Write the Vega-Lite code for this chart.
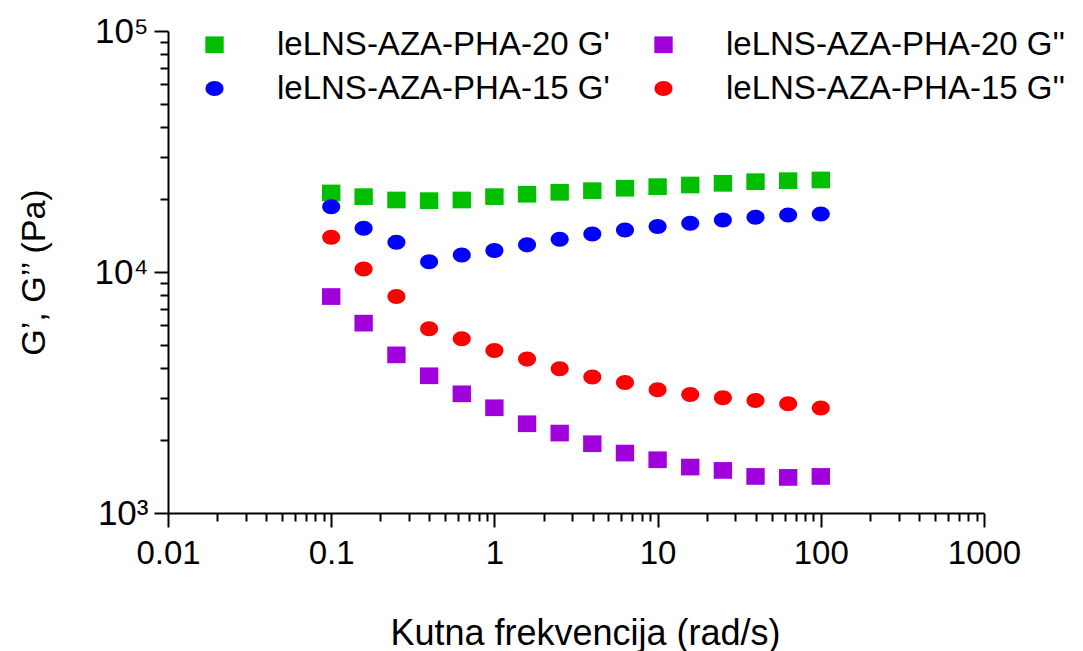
{
  "$schema": "https://vega.github.io/schema/vega-lite/v6.json",
  "width": 816,
  "height": 482,
  "autosize": {"type": "none"},
  "padding": {"left": 168, "top": 31, "right": 99, "bottom": 138},
  "background": "white",
  "config": {"view": {"stroke": null}, "font": "Liberation Sans"},
  "data": {
    "values": [
      {"f": 0.1, "v": 21280, "s": "leLNS-AZA-PHA-20 G'"},
      {"f": 0.158, "v": 20540, "s": "leLNS-AZA-PHA-20 G'"},
      {"f": 0.251, "v": 19900, "s": "leLNS-AZA-PHA-20 G'"},
      {"f": 0.398, "v": 19770, "s": "leLNS-AZA-PHA-20 G'"},
      {"f": 0.631, "v": 19900, "s": "leLNS-AZA-PHA-20 G'"},
      {"f": 1, "v": 20540, "s": "leLNS-AZA-PHA-20 G'"},
      {"f": 1.585, "v": 21020, "s": "leLNS-AZA-PHA-20 G'"},
      {"f": 2.512, "v": 21420, "s": "leLNS-AZA-PHA-20 G'"},
      {"f": 3.981, "v": 21750, "s": "leLNS-AZA-PHA-20 G'"},
      {"f": 6.31, "v": 22260, "s": "leLNS-AZA-PHA-20 G'"},
      {"f": 10, "v": 22600, "s": "leLNS-AZA-PHA-20 G'"},
      {"f": 15.85, "v": 22960, "s": "leLNS-AZA-PHA-20 G'"},
      {"f": 25.12, "v": 23340, "s": "leLNS-AZA-PHA-20 G'"},
      {"f": 39.81, "v": 23700, "s": "leLNS-AZA-PHA-20 G'"},
      {"f": 63.1, "v": 23930, "s": "leLNS-AZA-PHA-20 G'"},
      {"f": 100, "v": 24090, "s": "leLNS-AZA-PHA-20 G'"},
      {"f": 0.1, "v": 7910, "s": "leLNS-AZA-PHA-20 G''"},
      {"f": 0.158, "v": 6135, "s": "leLNS-AZA-PHA-20 G''"},
      {"f": 0.251, "v": 4530, "s": "leLNS-AZA-PHA-20 G''"},
      {"f": 0.398, "v": 3710, "s": "leLNS-AZA-PHA-20 G''"},
      {"f": 0.631, "v": 3123, "s": "leLNS-AZA-PHA-20 G''"},
      {"f": 1, "v": 2733, "s": "leLNS-AZA-PHA-20 G''"},
      {"f": 1.585, "v": 2346, "s": "leLNS-AZA-PHA-20 G''"},
      {"f": 2.512, "v": 2146, "s": "leLNS-AZA-PHA-20 G''"},
      {"f": 3.981, "v": 1938, "s": "leLNS-AZA-PHA-20 G''"},
      {"f": 6.31, "v": 1773, "s": "leLNS-AZA-PHA-20 G''"},
      {"f": 10, "v": 1663, "s": "leLNS-AZA-PHA-20 G''"},
      {"f": 15.85, "v": 1551, "s": "leLNS-AZA-PHA-20 G''"},
      {"f": 25.12, "v": 1502, "s": "leLNS-AZA-PHA-20 G''"},
      {"f": 39.81, "v": 1418, "s": "leLNS-AZA-PHA-20 G''"},
      {"f": 63.1, "v": 1405, "s": "leLNS-AZA-PHA-20 G''"},
      {"f": 100, "v": 1418, "s": "leLNS-AZA-PHA-20 G''"},
      {"f": 0.1, "v": 18670, "s": "leLNS-AZA-PHA-15 G'"},
      {"f": 0.158, "v": 15190, "s": "leLNS-AZA-PHA-15 G'"},
      {"f": 0.251, "v": 13290, "s": "leLNS-AZA-PHA-15 G'"},
      {"f": 0.398, "v": 11040, "s": "leLNS-AZA-PHA-15 G'"},
      {"f": 0.631, "v": 11770, "s": "leLNS-AZA-PHA-15 G'"},
      {"f": 1, "v": 12270, "s": "leLNS-AZA-PHA-15 G'"},
      {"f": 1.585, "v": 12960, "s": "leLNS-AZA-PHA-15 G'"},
      {"f": 2.512, "v": 13680, "s": "leLNS-AZA-PHA-15 G'"},
      {"f": 3.981, "v": 14390, "s": "leLNS-AZA-PHA-15 G'"},
      {"f": 6.31, "v": 14950, "s": "leLNS-AZA-PHA-15 G'"},
      {"f": 10, "v": 15430, "s": "leLNS-AZA-PHA-15 G'"},
      {"f": 15.85, "v": 15940, "s": "leLNS-AZA-PHA-15 G'"},
      {"f": 25.12, "v": 16440, "s": "leLNS-AZA-PHA-15 G'"},
      {"f": 39.81, "v": 16880, "s": "leLNS-AZA-PHA-15 G'"},
      {"f": 63.1, "v": 17250, "s": "leLNS-AZA-PHA-15 G'"},
      {"f": 100, "v": 17420, "s": "leLNS-AZA-PHA-15 G'"},
      {"f": 0.1, "v": 13940, "s": "leLNS-AZA-PHA-15 G''"},
      {"f": 0.158, "v": 10300, "s": "leLNS-AZA-PHA-15 G''"},
      {"f": 0.251, "v": 7910, "s": "leLNS-AZA-PHA-15 G''"},
      {"f": 0.398, "v": 5810, "s": "leLNS-AZA-PHA-15 G''"},
      {"f": 0.631, "v": 5280, "s": "leLNS-AZA-PHA-15 G''"},
      {"f": 1, "v": 4720, "s": "leLNS-AZA-PHA-15 G''"},
      {"f": 1.585, "v": 4350, "s": "leLNS-AZA-PHA-15 G''"},
      {"f": 2.512, "v": 3965, "s": "leLNS-AZA-PHA-15 G''"},
      {"f": 3.981, "v": 3665, "s": "leLNS-AZA-PHA-15 G''"},
      {"f": 6.31, "v": 3480, "s": "leLNS-AZA-PHA-15 G''"},
      {"f": 10, "v": 3245, "s": "leLNS-AZA-PHA-15 G''"},
      {"f": 15.85, "v": 3100, "s": "leLNS-AZA-PHA-15 G''"},
      {"f": 25.12, "v": 3006, "s": "leLNS-AZA-PHA-15 G''"},
      {"f": 39.81, "v": 2930, "s": "leLNS-AZA-PHA-15 G''"},
      {"f": 63.1, "v": 2840, "s": "leLNS-AZA-PHA-15 G''"},
      {"f": 100, "v": 2725, "s": "leLNS-AZA-PHA-15 G''"}
    ]
  },
  "mark": {"type": "point", "filled": true, "opacity": 1, "size": 279, "strokeWidth": 0},
  "encoding": {
    "x": {
      "field": "f",
      "type": "quantitative",
      "scale": {"type": "log", "domain": [0.01, 1000], "nice": false},
      "axis": {
        "title": "Kutna frekvencija (rad/s)",
        "titleFontSize": 36,
        "titleFontWeight": "normal",
        "titleColor": "black",
        "titleX": 417,
        "titleY": 131,
        "titleBaseline": "alphabetic",
        "titleAlign": "center",
        "values": [0.01, 0.02, 0.03, 0.04, 0.05, 0.06, 0.07, 0.08, 0.09, 0.1, 0.2, 0.3, 0.4, 0.5, 0.6, 0.7, 0.8, 0.9, 1, 2, 3, 4, 5, 6, 7, 8, 9, 10, 20, 30, 40, 50, 60, 70, 80, 90, 100, 200, 300, 400, 500, 600, 700, 800, 900, 1000],
        "labelExpr": "datum.value == 0.01 ? '0.01' : datum.value == 0.1 ? '0.1' : datum.value == 1 ? '1' : datum.value == 10 ? '10' : datum.value == 100 ? '100' : datum.value == 1000 ? '1000' : ''",
        "labelFontSize": 33,
        "labelColor": "black",
        "labelBaseline": "alphabetic",
        "labelPadding": 36,
        "labelOverlap": false,
        "labelFlush": false,
        "grid": false,
        "domainColor": "black",
        "domainWidth": 2,
        "tickColor": "black",
        "tickWidth": 2,
        "tickSize": {"condition": {"test": "indexof([0.01, 0.1, 1, 10, 100, 1000], datum.value) >= 0", "value": 14}, "value": 8}
      }
    },
    "y": {
      "field": "v",
      "type": "quantitative",
      "scale": {"type": "log", "domain": [1000, 100000], "nice": false},
      "axis": {
        "title": "G’, G’’ (Pa)",
        "titleFontSize": 34,
        "titleFontWeight": "normal",
        "titleColor": "black",
        "titleAngle": -90,
        "titleX": -134,
        "titleY": 241,
        "titleBaseline": "middle",
        "titleAlign": "center",
        "values": [1000, 2000, 3000, 4000, 5000, 6000, 7000, 8000, 9000, 10000, 20000, 30000, 40000, 50000, 60000, 70000, 80000, 90000, 100000],
        "labelExpr": "datum.value == 1000 ? '10³' : datum.value == 10000 ? '10⁴' : datum.value == 100000 ? '10⁵' : ''",
        "labelFontSize": 35,
        "labelColor": "black",
        "labelPadding": 6,
        "labelOverlap": false,
        "labelFlush": false,
        "grid": false,
        "domainColor": "black",
        "domainWidth": 2,
        "tickColor": "black",
        "tickWidth": 2,
        "tickSize": {"condition": {"test": "indexof([1000, 10000, 100000], datum.value) >= 0", "value": 14}, "value": 8}
      }
    },
    "color": {
      "field": "s",
      "type": "nominal",
      "scale": {
        "domain": ["leLNS-AZA-PHA-20 G'", "leLNS-AZA-PHA-15 G'", "leLNS-AZA-PHA-20 G''", "leLNS-AZA-PHA-15 G''"],
        "range": ["#00BE00", "#0000FF", "#A000DC", "#FF0000"]
      },
      "legend": {
        "title": null,
        "orient": "none",
        "legendX": 30,
        "legendY": -3,
        "columns": 2,
        "columnPadding": 37,
        "rowPadding": 10,
        "padding": 0,
        "labelFontSize": 33,
        "labelColor": "black",
        "labelOffset": 46,
        "symbolSize": 279,
        "symbolStrokeWidth": 0,
        "labelLimit": 0
      }
    },
    "shape": {
      "field": "s",
      "type": "nominal",
      "scale": {
        "domain": ["leLNS-AZA-PHA-20 G'", "leLNS-AZA-PHA-15 G'", "leLNS-AZA-PHA-20 G''", "leLNS-AZA-PHA-15 G''"],
        "range": ["M-1.1,-1H1.1V1H-1.1Z", "M-1.08,0A1.08,0.9,0,1,0,1.08,0A1.08,0.9,0,1,0,-1.08,0Z", "M-1.1,-1H1.1V1H-1.1Z", "M-1.08,0A1.08,0.9,0,1,0,1.08,0A1.08,0.9,0,1,0,-1.08,0Z"]
      },
      "legend": {
        "title": null,
        "orient": "none",
        "legendX": 30,
        "legendY": -3,
        "columns": 2,
        "columnPadding": 37,
        "rowPadding": 10,
        "padding": 0,
        "labelFontSize": 33,
        "labelColor": "black",
        "labelOffset": 46,
        "symbolSize": 279,
        "symbolStrokeWidth": 0,
        "labelLimit": 0
      }
    }
  }
}
